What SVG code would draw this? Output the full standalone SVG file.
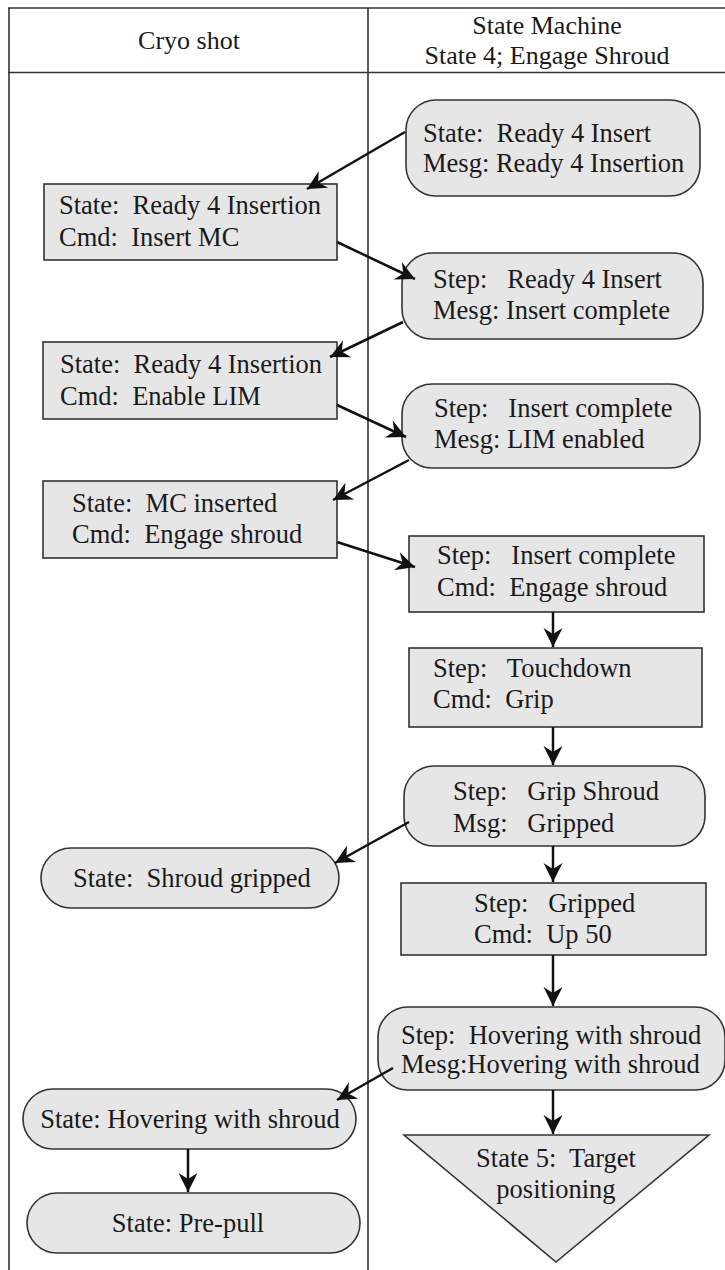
<svg xmlns="http://www.w3.org/2000/svg" width="725" height="1270" viewBox="0 0 725 1270">
<style>
.frame{fill:none;stroke:#333;stroke-width:1.6}
.box{fill:#e6e6e6;stroke:#333;stroke-width:1.6}
.t{font-family:"Liberation Serif","Times New Roman",serif;font-size:26.5px;fill:#1a1a1a}
.h{font-family:"Liberation Serif","Times New Roman",serif;font-size:26px;fill:#1a1a1a;text-anchor:middle}
.c{text-anchor:middle}
.edge{stroke:#111;stroke-width:2.5;fill:none;marker-end:url(#ah)}
</style>
<defs>
<marker id="ah" markerUnits="userSpaceOnUse" viewBox="-20 -11 22 22" refX="0" refY="0" markerWidth="22" markerHeight="22" orient="auto">
<path d="M0,0 L-19,-9.5 L-13,0 L-19,9.5 Z" fill="#111"/>
</marker>
</defs>
<g id="frame">
<line class="frame" x1="8" y1="8" x2="725" y2="8"/>
<line class="frame" x1="8" y1="72.5" x2="725" y2="72.5"/>
<line class="frame" x1="9" y1="8" x2="9" y2="1270"/>
<line class="frame" x1="368" y1="8" x2="368" y2="1270"/>
<text class="h" x="189" y="49">Cryo shot</text>
<text class="h" x="547" y="34">State Machine</text>
<text class="h" x="547" y="63.5">State 4; Engage Shroud</text>
</g>
<g id="n1"><rect class="box" x="406" y="100" width="294" height="96" rx="30"/>
<text class="t" x="423" y="142">State:&#160; Ready 4 Insert</text><text class="t" x="423" y="172">Mesg: Ready 4 Insertion</text></g>
<g id="n2"><rect class="box" x="44" y="184" width="293" height="76"/>
<text class="t" x="59" y="214">State:&#160; Ready 4 Insertion</text><text class="t" x="59" y="246">Cmd:&#160; Insert MC</text></g>
<g id="n3"><rect class="box" x="402" y="253" width="301" height="86" rx="30"/>
<text class="t" x="433" y="288">Step:&#160;&#160; Ready 4 Insert</text><text class="t" x="433" y="319">Mesg: Insert complete</text></g>
<g id="n4"><rect class="box" x="43" y="342" width="294" height="77"/>
<text class="t" x="60" y="373">State:&#160; Ready 4 Insertion</text><text class="t" x="60" y="405">Cmd:&#160; Enable LIM</text></g>
<g id="n5"><rect class="box" x="402" y="384" width="298" height="84" rx="30"/>
<text class="t" x="434" y="417">Step:&#160;&#160; Insert complete</text><text class="t" x="434" y="448">Mesg: LIM enabled</text></g>
<g id="n6"><rect class="box" x="43" y="481" width="294" height="77"/>
<text class="t" x="72" y="512">State:&#160; MC inserted</text><text class="t" x="72" y="543">Cmd:&#160; Engage shroud</text></g>
<g id="n7"><rect class="box" x="409" y="536" width="295" height="76"/>
<text class="t" x="437" y="564">Step:&#160;&#160; Insert complete</text><text class="t" x="437" y="596">Cmd:&#160; Engage shroud</text></g>
<g id="n8"><rect class="box" x="409" y="648" width="293" height="79"/>
<text class="t" x="433" y="677">Step:&#160;&#160; Touchdown</text><text class="t" x="433" y="708">Cmd:&#160; Grip</text></g>
<g id="n9"><rect class="box" x="404" y="766" width="301" height="80" rx="30"/>
<text class="t" x="453" y="800">Step:&#160;&#160; Grip Shroud</text><text class="t" x="453" y="832">Msg:&#160;&#160; Gripped</text></g>
<g id="n10"><rect class="box" x="401" y="883" width="305" height="72"/>
<text class="t" x="474" y="912">Step:&#160;&#160; Gripped</text><text class="t" x="474" y="943">Cmd:&#160; Up 50</text></g>
<g id="n11"><rect class="box" x="41" y="848" width="298" height="60" rx="30"/>
<text class="t" x="73" y="887">State:&#160; Shroud gripped</text></g>
<g id="n12"><rect class="box" x="378" y="1007" width="347" height="83" rx="30"/>
<text class="t" x="401" y="1044">Step:&#160; Hovering with shroud</text><text class="t" x="401" y="1073">Mesg:Hovering with shroud</text></g>
<g id="n13"><rect class="box" x="23" y="1089" width="333" height="60" rx="30"/>
<text class="t c" x="190" y="1128">State: Hovering with shroud</text></g>
<g id="n14"><path class="box" d="M404,1135 L709,1135 L556,1262 Z"/>
<text class="t c" x="556" y="1167">State 5:&#160; Target</text><text class="t c" x="556" y="1198">positioning</text></g>
<g id="n15"><rect class="box" x="27" y="1193" width="333" height="60" rx="30"/>
<text class="t c" x="188" y="1232">State: Pre-pull</text></g>
<g id="connectors">
<line class="edge" x1="405" y1="132" x2="307" y2="189"/>
<line class="edge" x1="337" y1="242" x2="415" y2="279"/>
<line class="edge" x1="403" y1="322" x2="330" y2="357"/>
<line class="edge" x1="337" y1="405" x2="406" y2="437"/>
<line class="edge" x1="409" y1="460" x2="333" y2="500"/>
<line class="edge" x1="337" y1="542" x2="415" y2="567"/>
<line class="edge" x1="553" y1="612" x2="553" y2="647"/>
<line class="edge" x1="553" y1="727" x2="553" y2="765"/>
<line class="edge" x1="553" y1="846" x2="553" y2="882"/>
<line class="edge" x1="409" y1="822" x2="335" y2="863"/>
<line class="edge" x1="553" y1="955" x2="553" y2="1006"/>
<line class="edge" x1="393" y1="1068" x2="337" y2="1100"/>
<line class="edge" x1="553" y1="1090" x2="553" y2="1134"/>
<line class="edge" x1="188" y1="1149" x2="188" y2="1192"/>
</g>
</svg>
